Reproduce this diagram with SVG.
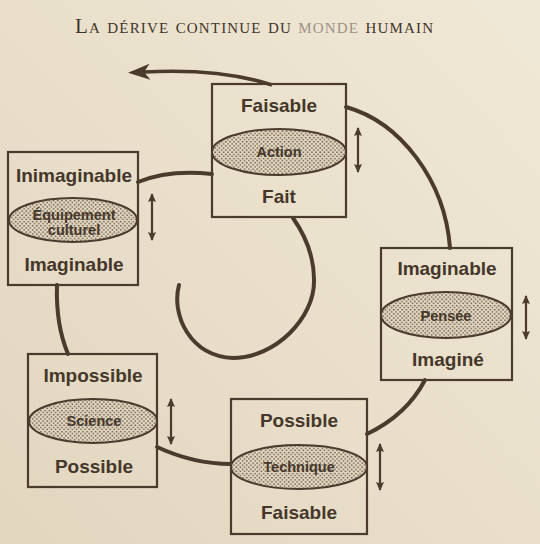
<svg xmlns="http://www.w3.org/2000/svg" width="540" height="544" viewBox="0 0 540 544">
<defs>
  <linearGradient id="paper" x1="1" y1="0" x2="0" y2="1">
    <stop offset="0" stop-color="#f0e8d6"/>
    <stop offset="1" stop-color="#e2d6bf"/>
  </linearGradient>
  <pattern id="dots" width="4.2" height="4.2" patternUnits="userSpaceOnUse">
    <rect width="4.2" height="4.2" fill="#e4d9c3"/>
    <circle cx="1.05" cy="1.05" r="0.9" fill="#6f5f4c"/>
    <circle cx="3.15" cy="3.15" r="0.9" fill="#6f5f4c"/>
  </pattern>
  <marker id="bigHead" markerUnits="userSpaceOnUse" markerWidth="26" markerHeight="20" viewBox="-2 -10 26 20" refX="6" refY="0" orient="auto">
    <path d="M22,0 L0,-8 L6,0 L0,8 Z" fill="#4a3b2d"/>
  </marker>
  <marker id="smallHead" markerUnits="userSpaceOnUse" markerWidth="12" markerHeight="12" viewBox="-1 -6 12 12" refX="8" refY="0" orient="auto-start-reverse">
    <path d="M9,0 L0,-4 L1.5,0 L0,4 Z" fill="#4a3b2d"/>
  </marker>
</defs>
<style>
  .box { fill: none; stroke: #4a3b2d; stroke-width: 2.2; }
  .ell { fill: url(#dots); stroke: #4a3b2d; stroke-width: 2; }
  .lbl { font-family: "Liberation Sans", Arial, sans-serif; font-weight: bold; font-size: 19px; fill: #45372a; text-anchor: middle; }
  .sub { font-family: "Liberation Sans", Arial, sans-serif; font-weight: bold; font-size: 14.5px; fill: #45372a; text-anchor: middle; }
  .spiral { fill: none; stroke: #4a3b2d; stroke-width: 4; stroke-linecap: round; }
  .dbl { fill: none; stroke: #4a3b2d; stroke-width: 2.2; marker-start: url(#smallHead); marker-end: url(#smallHead); }
  .title { font-family: "Liberation Serif", "Times New Roman", serif; font-size: 21px; font-variant: small-caps; fill: #3f342a; }
</style>
<rect width="540" height="544" fill="url(#paper)"/>

<text class="title" x="75" y="33" textLength="358" lengthAdjust="spacing">La dérive continue du <tspan fill="#9c9285">monde</tspan> humain</text>

<g id="connectors">
  <path class="spiral" d="M179,285 C171,315 190,356 233,358 C275,358 315,318 314,280 C314,255 305,235 293,218"/>
  <path class="spiral" d="M138,182 C160,173 185,171 212,174"/>
  <path class="spiral" d="M57,285 C56,315 60,335 68,354"/>
  <path class="spiral" d="M157,447 C185,460 208,464 231,464"/>
  <path class="spiral" d="M367,434 C392,422 412,405 425,380"/>
  <path class="spiral" d="M346,107 C400,122 445,180 450,248"/>
  <path fill="none" stroke="#4a3b2d" stroke-width="3.5" d="M272,85 Q220,68 144,72" marker-end="url(#bigHead)"/>
  <line class="dbl" x1="358" y1="128" x2="358" y2="172"/>
  <line class="dbl" x1="152" y1="194" x2="152" y2="240"/>
  <line class="dbl" x1="526" y1="296" x2="526" y2="339"/>
  <line class="dbl" x1="171" y1="399" x2="171" y2="444"/>
  <line class="dbl" x1="380" y1="444" x2="380" y2="490"/>
</g>

<g id="node-action">
  <rect class="box" x="212" y="84" width="134" height="133"/>
  <ellipse class="ell" cx="279" cy="152" rx="67" ry="23"/>
  <text class="lbl" x="279" y="112">Faisable</text>
  <text class="sub" x="279" y="157">Action</text>
  <text class="lbl" x="279" y="203">Fait</text>
</g>

<g id="node-equipement">
  <rect class="box" x="8" y="152" width="130" height="133"/>
  <ellipse class="ell" cx="73" cy="220" rx="64" ry="22"/>
  <text class="lbl" x="74" y="182">Inimaginable</text>
  <text class="sub" x="74" y="220">Équipement</text>
  <text class="sub" x="74" y="235">culturel</text>
  <text class="lbl" x="74" y="271">Imaginable</text>
</g>

<g id="node-pensee">
  <rect class="box" x="381" y="248" width="131" height="132"/>
  <ellipse class="ell" cx="446" cy="315" rx="65" ry="23"/>
  <text class="lbl" x="447" y="275">Imaginable</text>
  <text class="sub" x="446" y="321">Pensée</text>
  <text class="lbl" x="448" y="366">Imaginé</text>
</g>

<g id="node-science">
  <rect class="box" x="28" y="354" width="129" height="133"/>
  <ellipse class="ell" cx="93" cy="421" rx="64" ry="22"/>
  <text class="lbl" x="93" y="382">Impossible</text>
  <text class="sub" x="94" y="426">Science</text>
  <text class="lbl" x="94" y="473">Possible</text>
</g>

<g id="node-technique">
  <rect class="box" x="231" y="399" width="136" height="135"/>
  <ellipse class="ell" cx="299" cy="467" rx="68" ry="22"/>
  <text class="lbl" x="299" y="427">Possible</text>
  <text class="sub" x="299" y="472">Technique</text>
  <text class="lbl" x="299" y="519">Faisable</text>
</g>
</svg>
